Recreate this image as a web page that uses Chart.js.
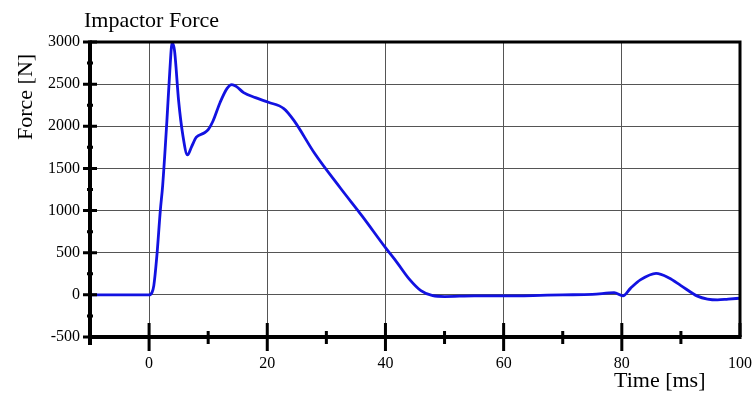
<!DOCTYPE html>
<html>
<head>
<meta charset="utf-8">
<script src="https://cdn.jsdelivr.net/npm/chart.js@4"></script>
<style>
  html, body { margin: 0; padding: 0; background: #fff; }
  #wrap { width: 755px; height: 394px; }
</style>
</head>
<body>
<div id="wrap"><canvas id="forceChart" width="755" height="394"></canvas></div>
<script>
// ===============================
// DONNEES
// ===============================
const timeMs = [-10, 0, 0.5, 0.8, 1.3, 1.9, 2.3, 3, 3.5, 3.9, 4.3, 5, 5.7, 6.5, 7.2, 8, 9.3, 10, 10.8, 12,
  13.2, 14, 14.8, 16, 18, 20.2, 22.8, 24.5, 28, 32.4, 36, 40, 42, 44, 46, 48, 50, 55, 60, 65,
  70, 75, 78.7, 80.2, 81.5, 83.2, 85.8, 88, 90, 92.8, 94.5, 96.2, 98, 100];
const forceN = [0, 0, 30, 110, 450, 1000, 1300, 2050, 2650, 2990, 2900, 2300, 1900, 1660, 1760, 1870, 1920, 1960, 2060, 2280,
  2450, 2495, 2470, 2400, 2340, 2285, 2210, 2070, 1680, 1265, 940, 560, 380, 190, 50, -10, -20, -12, -12, -8,
  0, 5, 27, -12, 80, 180, 255, 200, 110, -15, -50, -60, -50, -40];

const xMajorTicks = [0, 20, 40, 60, 80, 100];
const xMinorTicks = [10, 30, 50, 70, 90];
const yMajorTicks = [-500, 0, 500, 1000, 1500, 2000, 2500, 3000];
const yMinorTicks = [-250, 250, 750, 1250, 1750, 2250, 2750];

const chartTitle = 'Impactor Force';
const yTitle = 'Force [N]';
const xTitle = 'Time [ms]';

const SERIF = '"Liberation Serif", "Times New Roman", serif';

// ===============================
// CADRE, GRADUATIONS ET TITRES
// ===============================
const framePlugin = {
  id: 'frame',
  afterDraw(chart) {
    const { ctx, chartArea: a, scales } = chart;
    const xs = scales.x, ys = scales.y;
    ctx.save();
    ctx.strokeStyle = '#000';
    ctx.lineCap = 'butt';

    // cadre
    ctx.lineWidth = 3;
    ctx.beginPath();
    ctx.moveTo(a.left, a.top);
    ctx.lineTo(a.right, a.top);
    ctx.lineTo(a.right, a.bottom);
    ctx.stroke();
    ctx.lineWidth = 4;
    ctx.beginPath();
    ctx.moveTo(a.left, a.top - 1.5);
    ctx.lineTo(a.left, a.bottom + 8);
    ctx.moveTo(a.left - 2, a.bottom);
    ctx.lineTo(a.right + 1.5, a.bottom);
    ctx.stroke();

    // graduations
    ctx.lineWidth = 3;
    ctx.beginPath();
    xMajorTicks.forEach(v => {
      const px = xs.getPixelForValue(v);
      ctx.moveTo(px, a.bottom - 14);
      ctx.lineTo(px, a.bottom + (v === 100 ? 0 : 14));
    });
    xMinorTicks.forEach(v => {
      const px = xs.getPixelForValue(v);
      ctx.moveTo(px, a.bottom - 6);
      ctx.lineTo(px, a.bottom + 7);
    });
    yMajorTicks.forEach(v => {
      const py = ys.getPixelForValue(v);
      ctx.moveTo(a.left - 7, py);
      ctx.lineTo(a.left + 7, py);
    });
    yMinorTicks.forEach(v => {
      const py = ys.getPixelForValue(v);
      ctx.moveTo(a.left - 3, py);
      ctx.lineTo(a.left + 3, py);
    });
    ctx.stroke();

    // titres
    ctx.fillStyle = '#000';
    ctx.font = '22px ' + SERIF;
    ctx.textBaseline = 'alphabetic';
    ctx.textAlign = 'left';
    ctx.fillText(chartTitle, 84, 27);
    ctx.fillText(xTitle, 614, 387);
    ctx.save();
    ctx.translate(32, 140);
    ctx.rotate(-Math.PI / 2);
    ctx.fillText(yTitle, 0, 0);
    ctx.restore();

    ctx.restore();
  }
};

// ===============================
// GRAPHIQUE
// ===============================
const chart = new Chart(document.getElementById('forceChart'), {
  type: 'line',
  data: {
    datasets: [{
      data: timeMs.map((t, i) => ({ x: t, y: forceN[i] })),
      borderColor: 'rgb(18, 18, 225)',
      borderWidth: 2.8,
      pointRadius: 0,
      fill: false,
      cubicInterpolationMode: 'monotone'
    }]
  },
  options: {
    responsive: false,
    animation: false,
    layout: { padding: { left: 0, right: 15, top: 42, bottom: 0 } },
    plugins: {
      legend: { display: false },
      title: { display: false },
      tooltip: { enabled: false }
    },
    scales: {
      x: {
        type: 'linear',
        min: -10,
        max: 100,
        afterBuildTicks: s => { s.ticks = xMajorTicks.map(v => ({ value: v })); },
        afterFit: s => { s.height = 57; s.paddingLeft = 0; s.paddingRight = 0; },
        grid: { color: '#555', lineWidth: 1, drawTicks: false },
        border: { display: false },
        ticks: {
          padding: 17,
          color: '#000',
          maxRotation: 0,
          callback: v => String(v),
          font: { family: SERIF, size: 16 }
        }
      },
      y: {
        type: 'linear',
        min: -500,
        max: 3000,
        afterBuildTicks: s => { s.ticks = yMajorTicks.map(v => ({ value: v })); },
        afterFit: s => { s.width = 90; s.paddingTop = 0; s.paddingBottom = 0; },
        grid: { color: '#555', lineWidth: 1, drawTicks: false },
        border: { display: false },
        ticks: {
          padding: 10,
          color: '#000',
          callback: v => String(v),
          font: { family: SERIF, size: 16 }
        }
      }
    }
  },
  plugins: [framePlugin]
});
</script>
</body>
</html>
